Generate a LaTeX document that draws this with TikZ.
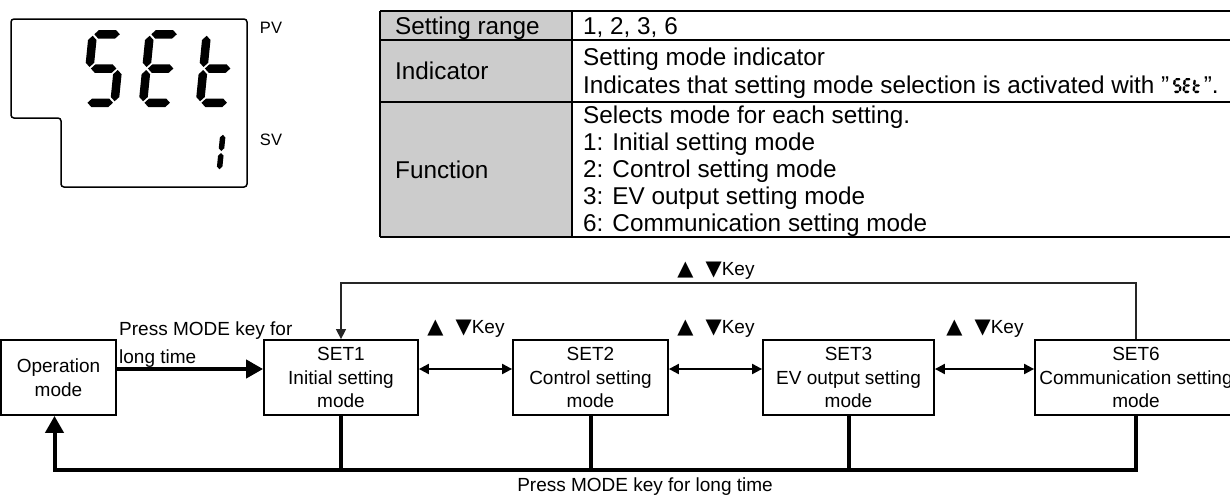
\documentclass[tikz,border=0pt]{standalone}
\usepackage{fontspec}
\setmainfont{Liberation Sans}
\newfontfamily\symfont{DejaVu Sans}
\usetikzlibrary{arrows.meta}
\newcommand\tfont{\fontsize{24.3}{27.5}\selectfont}
\newcommand\dfont{\fontsize{19}{23.5}\selectfont}
\newcommand\hsg[4]{\fill (#1,#3) -- (#1+#4/2,#3-#4/2) -- (#2-#4/2,#3-#4/2) -- (#2,#3) -- (#2-#4/2,#3+#4/2) -- (#1+#4/2,#3+#4/2) -- cycle;}
\newcommand\vsg[4]{\fill (#1,#2) -- (#1+#4/2,#2+#4/2) -- (#1+#4/2,#3-#4/2) -- (#1,#3) -- (#1-#4/2,#3-#4/2) -- (#1-#4/2,#2+#4/2) -- cycle;}
\newcommand\sgmA{\hsg{\dT/2+\dG}{\dW-\dT/2-\dG}{\dT/2}{\dT}}
\newcommand\sgmG{\hsg{\dT/2+\dG}{\dW-\dT/2-\dG}{\dH/2}{\dT}}
\newcommand\sgmD{\hsg{\dT/2+\dG}{\dW-\dT/2-\dG}{\dH-\dT/2}{\dT}}
\newcommand\sgmF{\vsg{\dT/2}{\dT/2+\dG}{\dH/2-\dG}{\dT}}
\newcommand\sgmE{\vsg{\dT/2}{\dH/2+\dG}{\dH-\dT/2-\dG}{\dT}}
\newcommand\sgmB{\vsg{\dW-\dT/2}{\dT/2+\dG}{\dH/2-\dG}{\dT}}
\newcommand\sgmC{\vsg{\dW-\dT/2}{\dH/2+\dG}{\dH-\dT/2-\dG}{\dT}}
\newcommand\digS{\sgmA\sgmF\sgmG\sgmC\sgmD}
\newcommand\digE{\sgmA\sgmF\sgmG\sgmE\sgmD}
\newcommand\digT{\sgmF\sgmE\sgmG\sgmD}
\newcommand\keylbl{{\symfont\fontsize{21}{23}\selectfont ▲}\hspace{12pt}{\symfont\fontsize{21}{23}\selectfont ▼}Key}
\begin{document}
\begin{tikzpicture}[x=1pt,y=-1pt,
  tt/.style={anchor=base west, inner sep=0, font=\tfont},
  lbl/.style={inner sep=0, font=\dfont},
  box/.style={draw, line width=1.8pt, minimum height=75pt, align=center, font=\dfont, inner sep=0},
  rule/.style={line width=2pt},
  thickln/.style={line width=4pt},
  bigtip/.style={-{Triangle[length=17pt,width=18pt]}},
  dbl/.style={line width=2pt, {Triangle[length=10pt,width=10pt]}-{Triangle[length=10pt,width=10pt]}},
  looparrow/.style={line width=1.4pt, draw=black!85, -{Triangle[length=10pt,width=10pt]}}
]
\useasboundingbox (0,0) rectangle (1230,496);
% ---------- display ----------
\draw[line width=1.5pt, rounded corners=3pt] (11,19) -- (247,19) -- (247,187) -- (61,187) -- (61,118) -- (11,118) -- cycle;
\def\dW{37}\def\dH{77}\def\dT{8.5}\def\dG{1.5}
\begin{scope}[shift={(89,30)}, xslant=0.1]\digS\end{scope}
\begin{scope}[shift={(146,30)}, xslant=0.1]\digE\end{scope}
\begin{scope}[shift={(203,30)}, xslant=0.1]\digT\end{scope}
\def\dW{14}\def\dH{42}\def\dT{5.5}\def\dG{1}
\begin{scope}[shift={(212,131)}, xslant=0.1]\sgmB\sgmC\end{scope}
\node[lbl, font=\fontsize{16.5}{18}\selectfont] (pv) at (271,28) {PV};
\node[lbl, font=\fontsize{16.5}{18}\selectfont] (sv) at (271,140) {SV};
% ---------- table ----------
\fill[gray!40] (380,11) rectangle (572,237);
\draw[rule] (380,11) -- (1240,11);
\draw[rule] (380,40) -- (1240,40);
\draw[rule] (380,102) -- (1240,102);
\draw[rule] (380,237) -- (1240,237);
\draw[rule] (380,11) -- (380,237);
\draw[rule] (572,11) -- (572,237);
\node[tt] (h1) at (395,34) {Setting range};
\node[tt] (v1) at (583,34) {1, 2, 3, 6};
\node[tt] (h2) at (395,79) {Indicator};
\node[tt] (v2a) at (583,65) {Setting mode indicator};
\node[tt] (v2b) at (583,93) {Indicates that setting mode selection is activated with ”};
\def\dW{8.5}\def\dH{15}\def\dT{2.4}\def\dG{0.4}
\begin{scope}[shift={(v2b.base east)}]
  \begin{scope}[shift={(4,-15)}, xslant=0.08]\digS\end{scope}
  \begin{scope}[shift={(14,-15)}, xslant=0.08]\digE\end{scope}
  \begin{scope}[shift={(24,-15)}, xslant=0.08]\digT\end{scope}
\end{scope}
\node[tt] (v2c) at ([xshift=34pt]v2b.base east) {”.};
\node[tt] (h3) at (395,178) {Function};
\node[tt] (f1) at (583,123) {Selects mode for each setting.};
\node[tt] (f2) at (583,150) {1: Initial setting mode};
\node[tt] (f3) at (583,177) {2: Control setting mode};
\node[tt] (f4) at (583,204) {3: EV output setting mode};
\node[tt] (f5) at (583,231) {6: Communication setting mode};
% ---------- flow ----------
\node[box, minimum width=115pt] (op) at (58.5,377.5) {Operation\\mode};
\node[box, minimum width=154pt] (s1) at (341,377.5) {SET1\\Initial setting\\mode};
\node[box, minimum width=155pt] (s2) at (590.5,377.5) {SET2\\Control setting\\mode};
\node[box, minimum width=171pt] (s3) at (848.5,377.5) {SET3\\EV output setting\\mode};
\node[box, minimum width=202pt] (s6) at (1136,377.5) {SET6\\Communication setting\\mode};
\coordinate (ay) at (0,369);
\coordinate (top) at (0,283);
\coordinate (bot) at (0,470);
\coordinate (opin) at ([xshift=-4pt]op.south);
\draw[thickln, bigtip] (op.east |- ay) -- (s1.west |- ay);
\draw[dbl] (s1.east |- ay) -- (s2.west |- ay);
\draw[dbl] (s2.east |- ay) -- (s3.west |- ay);
\draw[dbl] (s3.east |- ay) -- (s6.west |- ay);
\draw[looparrow] (s6.north) -- (s6.north |- top) -- (s1.north |- top) -- (s1.north);
\draw[thickln, bigtip] (s6.south) -- (s6.south |- bot) -- (opin |- bot) -- (opin);
\draw[thickln] (s1.south) -- (s1.south |- bot);
\draw[thickln] (s2.south) -- (s2.south |- bot);
\draw[thickln] (s3.south) -- (s3.south |- bot);
\node[lbl, anchor=base west] (pm1) at (119,335) {Press MODE key for};
\node[lbl, anchor=base west] (pm2) at (119,363) {long time};
\node[lbl, anchor=base] (k1) at (466,333) {\keylbl};
\node[lbl, anchor=base] (k2) at (716,333) {\keylbl};
\node[lbl, anchor=base] (k3) at (985,333) {\keylbl};
\node[lbl, anchor=base] (k4) at (716,275) {\keylbl};
\node[lbl] (pm3) at (645,487) {Press MODE key for long time};
\end{tikzpicture}
\end{document}
